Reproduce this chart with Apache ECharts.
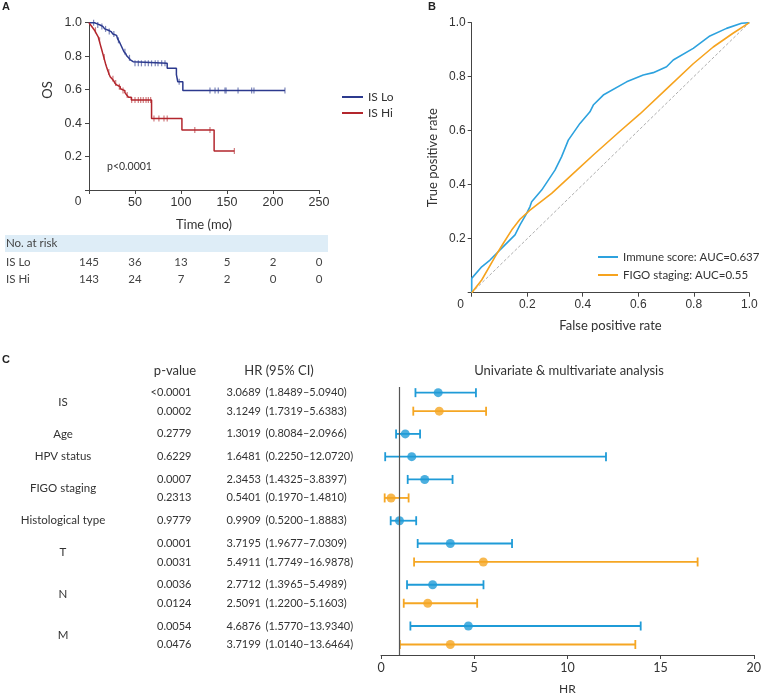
<!DOCTYPE html>
<html><head><meta charset="utf-8">
<script src="https://cdn.jsdelivr.net/npm/echarts@6/dist/echarts.min.js"></script>
<style>html,body{margin:0;padding:0;background:#fff}#c{width:764px;height:696px}</style>
</head><body><div id="c"></div>
<script>
// ---------- Panel A: Kaplan-Meier ----------
const kmLoTimes = [0, 6, 9, 12, 15, 17, 19, 21, 24, 26, 28, 30, 31, 32, 33, 34, 35, 36, 37, 38, 40, 41, 43, 45, 47, 48, 85, 95, 96.5, 102, 213];
const kmLoSurv  = [1.0, 0.993, 0.986, 0.978, 0.97, 0.963, 0.955, 0.947, 0.94, 0.932, 0.924, 0.915, 0.905, 0.895, 0.885, 0.874, 0.862, 0.85, 0.838, 0.826, 0.814, 0.802, 0.79, 0.778, 0.767, 0.757, 0.727, 0.69, 0.647, 0.594, 0.594];
const kmLoCensor = [5, 9.5, 14, 18, 22, 27, 32, 39, 44, 50, 53.6, 57, 61, 64.5, 68, 72, 75, 79, 82.6, 98, 131.5, 137, 140.5, 147.8, 149, 162, 176.8, 179.3, 213];
const kmHiTimes = [0, 2, 4, 6, 8, 10, 11, 12, 13, 14, 15, 16, 17, 18, 19, 20, 21, 22, 23, 25, 27, 28, 30, 32, 34, 36, 39, 41, 43, 46, 68, 101, 136, 158];
const kmHiSurv  = [1.0, 0.985, 0.97, 0.955, 0.935, 0.915, 0.895, 0.875, 0.855, 0.835, 0.815, 0.795, 0.775, 0.755, 0.737, 0.72, 0.705, 0.69, 0.677, 0.665, 0.652, 0.64, 0.628, 0.617, 0.605, 0.594, 0.582, 0.568, 0.555, 0.538, 0.428, 0.359, 0.233, 0.233];
const kmHiCensor = [7, 11.5, 16.5, 21.5, 26, 29, 33, 37, 41.5, 46.4, 50, 53.6, 56.2, 59, 62, 64.5, 67, 70.6, 76, 81.5, 85, 115, 131.5, 158];
const riskTimes = [0, 50, 100, 150, 200, 250];
const riskLo = [145, 36, 13, 5, 2, 0];
const riskHi = [143, 24, 7, 2, 0, 0];

// ---------- Panel B: ROC ----------
const rocImmuneFpr = [0, 0, 0.036, 0.066, 0.09, 0.12, 0.156, 0.174, 0.198, 0.21, 0.216, 0.252, 0.3, 0.324, 0.348, 0.39, 0.426, 0.438, 0.474, 0.558, 0.618, 0.654, 0.702, 0.726, 0.798, 0.858, 0.918, 0.972, 1];
const rocImmuneTpr = [0, 0.053, 0.096, 0.121, 0.146, 0.177, 0.214, 0.251, 0.294, 0.319, 0.337, 0.38, 0.454, 0.504, 0.565, 0.627, 0.67, 0.695, 0.732, 0.781, 0.806, 0.815, 0.837, 0.862, 0.905, 0.951, 0.979, 0.998, 1];
const rocFigoFpr = [0, 0.036, 0.084, 0.114, 0.144, 0.174, 0.21, 0.288, 0.375, 0.438, 0.534, 0.606, 0.702, 0.798, 0.87, 0.94, 1];
const rocFigoTpr = [0, 0.047, 0.133, 0.183, 0.232, 0.272, 0.306, 0.368, 0.45, 0.51, 0.598, 0.662, 0.755, 0.848, 0.91, 0.96, 1];

// ---------- Panel C: forest ----------
const fVars = ['IS', 'IS', 'Age', 'HPV status', 'FIGO staging', 'FIGO staging', 'Histological type', 'T', 'T', 'N', 'N', 'M', 'M'];
const fKind = ['uni', 'multi', 'uni', 'uni', 'uni', 'multi', 'uni', 'uni', 'multi', 'uni', 'multi', 'uni', 'multi'];
const fP = ['<0.0001', '0.0002', '0.2779', '0.6229', '0.0007', '0.2313', '0.9779', '0.0001', '0.0031', '0.0036', '0.0124', '0.0054', '0.0476'];
const fHR = [3.0689, 3.1249, 1.3019, 1.6481, 2.3453, 0.5401, 0.9909, 3.7195, 5.4911, 2.7712, 2.5091, 4.6876, 3.7199];
const fLow = [1.8489, 1.7319, 0.8084, 0.2250, 1.4325, 0.1970, 0.5200, 1.9677, 1.7749, 1.3965, 1.2200, 1.5770, 1.0140];
const fHigh = [5.0940, 5.6383, 2.0966, 12.0720, 3.8397, 1.4810, 1.8883, 7.0309, 16.9878, 5.4989, 5.1603, 13.9340, 13.6464];

// ---------- helpers ----------
const fmt4 = v => v.toFixed(4);
function survAt(times, surv, t) { let s = surv[0]; for (let i = 0; i < times.length; i++) { if (times[i] <= t) s = surv[i]; } return s; }
const zip = (a, b) => a.map((v, i) => [v, b[i]]);

const C_NAVY = '#2c3a8e', C_RED = '#b3262d';
const C_BLUE = '#2da2de', C_ORANGE = '#f6a31e';
const F_BLUE = '#1f9bd7', F_ORANGE = '#f5a623';
const AX = '#444', TX = '#333';
const LATO = 'Lato, "Noto Sans", sans-serif';
const ARIAL = '"Liberation Sans", Arial, sans-serif';

// forest row positions (row index + gap between variable groups)
const GAP = 0.231;
const fGroup = []; let g = 0;
fVars.forEach((v, i) => { if (i > 0 && v !== fVars[i - 1]) g++; fGroup.push(g); });
const fPos = fVars.map((v, i) => i + fGroup[i] * GAP);
const colorFor = i => fKind[i] === 'uni' ? F_BLUE : F_ORANGE;

const axisCommon = {
  axisLine: { show: true, onZero: false, lineStyle: { color: AX, width: 1 } },
  axisTick: { show: true, length: 4, lineStyle: { color: AX } },
  splitLine: { show: false }
};
const zeroShift = { z: { padding: [0, 22, 0, 0], fontFamily: ARIAL, fontSize: 12, color: TX } };

const chart = echarts.init(document.getElementById('c'), null, { renderer: 'canvas' });
chart.setOption({
  animation: false,
  backgroundColor: '#fff',
  textStyle: { fontFamily: LATO },
  grid: [
    { left: 89, top: 22.7, width: 230, height: 167.3 },
    { left: 471.7, top: 22.7, width: 277.6, height: 270 },
    { left: 381, top: 387, width: 375.7, height: 270.3 }
  ],
  xAxis: [
    Object.assign({ gridIndex: 0, type: 'value', min: 0, max: 250, interval: 50,
      name: 'Time (mo)', nameLocation: 'middle', nameGap: 28,
      nameTextStyle: { fontFamily: LATO, fontSize: 13, color: TX },
      axisLabel: { margin: 6, fontFamily: ARIAL, fontSize: 12.5, color: TX, rich: zeroShift,
        formatter: v => v === 0 ? '{z|0}' : String(v) } }, axisCommon),
    Object.assign({ gridIndex: 1, type: 'value', min: 0, max: 1, interval: 0.2,
      name: 'False positive rate', nameLocation: 'middle', nameGap: 27,
      nameTextStyle: { fontFamily: LATO, fontSize: 13, color: TX },
      axisLabel: { margin: 6, fontFamily: ARIAL, fontSize: 12, color: TX, rich: zeroShift,
        formatter: v => v === 0 ? '{z|0}' : v.toFixed(1) } }, axisCommon),
    Object.assign({ gridIndex: 2, type: 'value', min: 0, max: 20, interval: 5,
      name: 'HR', nameLocation: 'middle', nameGap: 28,
      nameTextStyle: { fontFamily: LATO, fontSize: 12, color: TX },
      axisLabel: { margin: 6, fontFamily: LATO, fontSize: 12.5, color: TX } }, axisCommon)
  ],
  yAxis: [
    Object.assign({ gridIndex: 0, type: 'value', min: 0, max: 1, interval: 0.2,
      axisLabel: { margin: 7, fontFamily: ARIAL, fontSize: 12.5, color: TX,
        formatter: v => v === 0 ? '' : v.toFixed(1) } }, axisCommon),
    Object.assign({ gridIndex: 1, type: 'value', min: 0, max: 1, interval: 0.2,
      name: 'True positive rate', nameLocation: 'middle', nameGap: 32,
      nameTextStyle: { fontFamily: LATO, fontSize: 13, color: TX },
      axisLabel: { margin: 6, fontFamily: ARIAL, fontSize: 12, color: TX,
        formatter: v => v === 0 ? '' : v.toFixed(1) } }, axisCommon),
    { gridIndex: 2, type: 'value', inverse: true, min: -0.306, max: 14.185, show: false }
  ],
  legend: [
    { data: ['IS Lo', 'IS Hi'], orient: 'vertical', left: 342, top: 91, padding: 0,
      icon: 'rect', itemWidth: 21, itemHeight: 2, itemGap: 4,
      textStyle: { fontFamily: LATO, fontSize: 12, color: TX } },
    { data: ['Immune score: AUC=0.637', 'FIGO staging: AUC=0.55'], orient: 'vertical', left: 598, top: 251, padding: 0,
      icon: 'rect', itemWidth: 20, itemHeight: 2, itemGap: 6,
      textStyle: { fontFamily: LATO, fontSize: 11.5, color: TX } }
  ],
  series: [
    // ---- A ----
    { name: 'IS Lo', type: 'line', xAxisIndex: 0, yAxisIndex: 0, step: 'end', symbol: 'none',
      lineStyle: { color: C_NAVY, width: 1.5 }, itemStyle: { color: C_NAVY },
      data: zip(kmLoTimes, kmLoSurv) },
    { name: 'IS Hi', type: 'line', xAxisIndex: 0, yAxisIndex: 0, step: 'end', symbol: 'none',
      lineStyle: { color: C_RED, width: 1.5 }, itemStyle: { color: C_RED },
      data: zip(kmHiTimes, kmHiSurv) },
    { name: 'IS Lo censored', type: 'scatter', xAxisIndex: 0, yAxisIndex: 0, symbol: 'rect', symbolSize: [1.2, 6],
      itemStyle: { color: '#5a66a8' }, silent: true,
      data: kmLoCensor.map(t => [t, survAt(kmLoTimes, kmLoSurv, t)]) },
    { name: 'IS Hi censored', type: 'scatter', xAxisIndex: 0, yAxisIndex: 0, symbol: 'rect', symbolSize: [1.2, 6],
      itemStyle: { color: '#c45a5e' }, silent: true,
      data: kmHiCensor.map(t => [t, survAt(kmHiTimes, kmHiSurv, t)]) },
    { name: 'risk', type: 'custom', xAxisIndex: 0, yAxisIndex: 0, silent: true, clip: false,
      data: riskTimes.map((t, i) => [t, 0, riskLo[i], riskHi[i]]),
      encode: { x: 0, y: 1 },
      renderItem: (params, api) => {
        const x = api.coord([api.value(0), 0])[0];
        const mk = (txt, y) => ({ type: 'text', style: { text: String(txt), x: x, y: y,
          align: 'center', verticalAlign: 'middle', textAlign: 'center', textVerticalAlign: 'middle',
          font: '11.5px ' + LATO, fill: '#444' } });
        return { type: 'group', children: [mk(api.value(2), 262), mk(api.value(3), 279)] };
      } },
    // ---- B ----
    { name: 'chance', type: 'line', xAxisIndex: 1, yAxisIndex: 1, symbol: 'none', silent: true,
      lineStyle: { color: '#999', width: 0.8, type: [3, 2] }, data: [[0, 0], [1, 1]] },
    { name: 'Immune score: AUC=0.637', type: 'line', xAxisIndex: 1, yAxisIndex: 1, symbol: 'none',
      lineStyle: { color: C_BLUE, width: 1.6 }, itemStyle: { color: C_BLUE },
      data: zip(rocImmuneFpr, rocImmuneTpr) },
    { name: 'FIGO staging: AUC=0.55', type: 'line', xAxisIndex: 1, yAxisIndex: 1, symbol: 'none',
      lineStyle: { color: C_ORANGE, width: 1.6 }, itemStyle: { color: C_ORANGE },
      data: zip(rocFigoFpr, rocFigoTpr) },
    // ---- C ----
    { name: 'ref', type: 'line', xAxisIndex: 2, yAxisIndex: 2, data: [], silent: true,
      markLine: { silent: true, symbol: 'none', label: { show: false },
        lineStyle: { color: '#555', width: 1.2, type: 'solid' }, data: [{ xAxis: 1 }] } },
    { name: 'ci', type: 'custom', xAxisIndex: 2, yAxisIndex: 2, silent: true, clip: false,
      data: fHR.map((h, i) => [fLow[i], fHigh[i], fPos[i], i]),
      encode: { x: [0, 1], y: 2 },
      renderItem: (params, api) => {
        const i = api.value(3), y = api.value(2);
        const a = api.coord([api.value(0), y]), b = api.coord([api.value(1), y]);
        const c = colorFor(i), h = 4.5, w = 1.8;
        return { type: 'group', children: [
          { type: 'line', shape: { x1: a[0], y1: a[1], x2: b[0], y2: b[1] }, style: { stroke: c, lineWidth: w } },
          { type: 'line', shape: { x1: a[0], y1: a[1] - h, x2: a[0], y2: a[1] + h }, style: { stroke: c, lineWidth: w } },
          { type: 'line', shape: { x1: b[0], y1: b[1] - h, x2: b[0], y2: b[1] + h }, style: { stroke: c, lineWidth: w } }
        ] };
      } },
    { name: 'hr', type: 'scatter', xAxisIndex: 2, yAxisIndex: 2, symbolSize: 9, silent: true,
      data: fHR.map((h, i) => ({ value: [h, fPos[i]], itemStyle: { color: colorFor(i) } })) },
    { name: 'table', type: 'custom', xAxisIndex: 2, yAxisIndex: 2, silent: true, clip: false,
      data: fHR.map((h, i) => [0, fPos[i], i]),
      encode: { x: 0, y: 1 },
      renderItem: (params, api) => {
        const i = api.value(2);
        const y = api.coord([0, api.value(1)])[1];
        const t = (txt, x, al, size) => ({ type: 'text', style: { text: txt, x: x, y: y,
          align: al, verticalAlign: 'middle', textAlign: al, textVerticalAlign: 'middle',
          font: (size || 11) + 'px ' + LATO, fill: TX } });
        const ch = [];
        const p = fP[i];
        if (p.charAt(0) === '<') { ch.push(t('<', 157, 'right')); ch.push(t(p.slice(1), 157, 'left')); }
        else ch.push(t(p, 157, 'left'));
        ch.push(t(fmt4(fHR[i]), 261, 'right'));
        ch.push(t('(' + fmt4(fLow[i]) + '\u2013' + fmt4(fHigh[i]) + ')', 265.5, 'left'));
        if (i === 0 || fVars[i] !== fVars[i - 1]) {
          const members = fPos.filter((pp, k) => fVars[k] === fVars[i]);
          const mid = members.reduce((s, v) => s + v, 0) / members.length;
          const ym = api.coord([0, mid])[1];
          ch.push({ type: 'text', style: { text: fVars[i], x: 63, y: ym, align: 'center', verticalAlign: 'middle',
            textAlign: 'center', textVerticalAlign: 'middle', font: '11.5px ' + LATO, fill: TX } });
        }
        return { type: 'group', children: ch };
      } }
  ],
  graphic: [
    { type: 'text', left: 2, top: 1, style: { text: 'A', font: 'bold 11px ' + ARIAL, fill: '#222' } },
    { type: 'text', left: 428, top: 1, style: { text: 'B', font: 'bold 11px ' + ARIAL, fill: '#222' } },
    { type: 'text', left: 2, top: 354, style: { text: 'C', font: 'bold 11px ' + ARIAL, fill: '#222' } },
    { type: 'text', x: 48, y: 90, rotation: Math.PI / 2,
      style: { text: 'OS', font: '13px ' + LATO, fill: TX, align: 'center', verticalAlign: 'middle' } },
    { type: 'text', x: 107, y: 167, style: { text: 'p<0.0001', font: '10.5px ' + LATO, fill: TX, align: 'left', verticalAlign: 'middle' } },
    { type: 'rect', shape: { x: 5, y: 235, width: 323, height: 17 }, style: { fill: '#deedf7' }, z: -1 },
    { type: 'text', x: 6, y: 243.5, style: { text: 'No. at risk', font: '11.5px ' + LATO, fill: '#444', align: 'left', verticalAlign: 'middle' } },
    { type: 'text', x: 6, y: 262, style: { text: 'IS Lo', font: '11.5px ' + LATO, fill: '#444', align: 'left', verticalAlign: 'middle' } },
    { type: 'text', x: 6, y: 279, style: { text: 'IS Hi', font: '11.5px ' + LATO, fill: '#444', align: 'left', verticalAlign: 'middle' } },
    { type: 'text', x: 175, y: 370.7, style: { text: 'p-value', font: '13px ' + LATO, fill: TX, align: 'center', verticalAlign: 'middle' } },
    { type: 'text', x: 279, y: 370.7, style: { text: 'HR (95% CI)', font: '13px ' + LATO, fill: TX, align: 'center', verticalAlign: 'middle' } },
    { type: 'text', x: 569, y: 370.7, style: { text: 'Univariate & multivariate analysis', font: '13px ' + LATO, fill: TX, align: 'center', verticalAlign: 'middle' } }
  ]
});
</script></body></html>
